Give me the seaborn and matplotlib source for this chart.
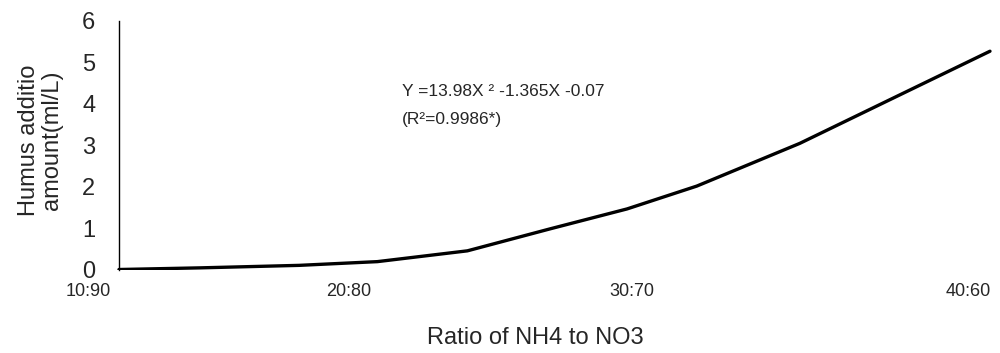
import matplotlib
matplotlib.use("Agg")
import matplotlib.pyplot as plt
import seaborn as sns
import pandas as pd

# Data (x = NH4 share in %, y = humus addition amount)
nh4_share = [10.0, 12.8, 16.2, 18.9, 22.0, 24.85, 27.5, 29.9, 33.45, 36.9, 40.0]
humus_ml = [0.0, 0.04, 0.10, 0.19, 0.45, 0.98, 1.46, 2.01, 3.04, 4.21, 5.26]

tick_positions = [8.93, 17.92, 27.67, 39.25]
tick_labels = ["10:90", "20:80", "30:70", "40:60"]
y_ticks = [0, 1, 2, 3, 4, 5, 6]

equation_line1 = "Y =13.98X \u00b2 -1.365X -0.07"
equation_line2 = "(R\u00b2=0.9986*)"

df = pd.DataFrame({"ratio": nh4_share, "humus": humus_ml})

sns.set_style("white")
plt.rcParams["font.family"] = ["Liberation Sans", "DejaVu Sans"]

fig = plt.figure(figsize=(10, 3.53), dpi=100)
ax = fig.add_axes([0.0609, 0.2365, 0.9378, 0.7054])

sns.lineplot(data=df, x="ratio", y="humus", ax=ax, color="black",
             linewidth=2.4, sort=False, estimator=None)

ax.set_xlim(8.0, 40.3)
ax.set_ylim(0, 6)

for s in ["top", "right", "bottom"]:
    ax.spines[s].set_visible(False)
ax.spines["left"].set_position(("data", 10))
ax.spines["left"].set_color("black")
ax.spines["left"].set_linewidth(1.0)

ax.set_xticks(tick_positions)
ax.set_xticklabels(tick_labels, fontsize=13)
ax.set_yticks(y_ticks)
ax.set_yticklabels([str(v) for v in y_ticks], fontsize=17)
ax.tick_params(axis="x", length=0, pad=9.5)
ax.tick_params(axis="y", length=0, pad=17)

ax.set_xlabel("Ratio of NH4 to NO3", fontsize=17)
ax.xaxis.set_label_coords(0.5055, -0.23)
ax.set_ylabel("Humus additio\namount(ml/L)", fontsize=17, linespacing=1.05)
ax.yaxis.set_label_coords(0.002, 0.52)

ax.text(0.3634, 0.716, equation_line1, transform=ax.transAxes,
        fontsize=12.5, ha="left", va="center")
ax.text(0.3634, 0.603, equation_line2, transform=ax.transAxes,
        fontsize=12.5, ha="left", va="center")

fig.savefig("out.png", dpi=100)
